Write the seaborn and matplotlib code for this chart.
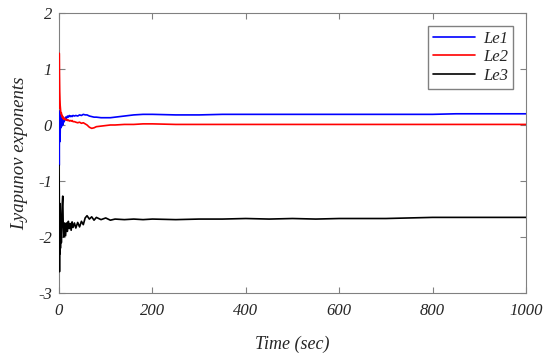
import matplotlib
matplotlib.use("Agg")
import matplotlib.pyplot as plt
import pandas as pd
import seaborn as sns

# time grid (sec)
time = [0, 0.5, 1, 1.5, 2, 2.5, 3, 4, 5, 6, 7, 8, 9, 10,
        12, 14, 16, 18, 20, 22, 24, 26, 28, 30, 33, 36,
        40, 44, 48, 52, 56, 60, 65, 70, 75, 80,
        90, 100, 110, 120, 140, 160, 180, 200,
        250, 300, 350, 400, 450, 500, 550, 600, 650, 700,
        750, 800, 850, 900, 950, 1000]

le1 = [0.1, -0.72, 0.25, -0.3, 0.2, -0.15, 0.15, -0.05, 0.12, -0.02, 0.1, 0.0, 0.12, 0.05,
       0.08, 0.14, 0.12, 0.16, 0.14, 0.17, 0.15, 0.16, 0.15, 0.17, 0.16, 0.17,
       0.16, 0.18, 0.17, 0.19, 0.18, 0.18, 0.16, 0.15, 0.14, 0.14,
       0.13, 0.13, 0.13, 0.14, 0.16, 0.18, 0.19, 0.19,
       0.18, 0.18, 0.19, 0.19, 0.19, 0.19, 0.19, 0.19, 0.19, 0.19,
       0.19, 0.19, 0.2, 0.2, 0.2, 0.2]

le2 = [0.3, 1.28, 0.9, 0.6, 0.45, 0.35, 0.3, 0.2, 0.22, 0.15, 0.17, 0.12, 0.14, 0.1,
       0.12, 0.09, 0.1, 0.08, 0.09, 0.07, 0.08, 0.07, 0.08, 0.06, 0.06, 0.05,
       0.04, 0.05, 0.03, 0.04, 0.02, 0.0, -0.04, -0.06, -0.05, -0.03,
       -0.02, -0.01, 0.0, 0.0, 0.01, 0.01, 0.02, 0.02,
       0.01, 0.01, 0.01, 0.01, 0.01, 0.01, 0.01, 0.01, 0.01, 0.01,
       0.01, 0.01, 0.01, 0.01, 0.01, 0.01]

le3 = [-0.72, -1.2, -2.62, -1.4, -2.3, -1.6, -2.2, -1.7, -2.1, -1.6, -1.4, -1.27, -1.8, -2.0,
       -1.75, -1.98, -1.75, -1.9, -1.72, -1.85, -1.76, -1.88, -1.73, -1.83, -1.75, -1.84,
       -1.74, -1.82, -1.72, -1.78, -1.66, -1.62, -1.68, -1.64, -1.7, -1.65,
       -1.69, -1.66, -1.7, -1.68, -1.69, -1.68, -1.69, -1.68,
       -1.69, -1.68, -1.68, -1.67, -1.68, -1.67, -1.68, -1.67, -1.67, -1.67,
       -1.66, -1.65, -1.65, -1.65, -1.65, -1.65]

series = ["Le1", "Le2", "Le3"]
colors = ["#0000ff", "#ff0000", "#000000"]

df = pd.DataFrame({"time": time * 3,
                   "value": le1 + le2 + le3,
                   "name": [s for s in series for _ in time]})

sns.set_style("ticks")
plt.rcParams["font.family"] = ["Liberation Serif", "DejaVu Serif"]
plt.rcParams["font.style"] = "italic"
plt.rcParams["axes.unicode_minus"] = False

fig = plt.figure(figsize=(5.5, 3.56), dpi=100)
ax = fig.add_axes([0.1073, 0.177, 0.849, 0.7865])

sns.lineplot(data=df, x="time", y="value", hue="name", palette=colors,
             linewidth=1.2, ax=ax, estimator=None, sort=False, zorder=3)

ax.set_xlim(0, 1000)
ax.set_ylim(-3, 2)
ax.set_xticks([0, 200, 400, 600, 800, 1000])
ax.set_yticks([-3, -2, -1, 0, 1, 2])
ax.set_xlabel("Time (sec)", fontsize=13, fontstyle="italic", labelpad=12)
ax.set_ylabel("Lyapunov exponents", fontsize=13.5, fontstyle="italic", labelpad=7)
ax.tick_params(direction="in", top=True, right=True, labelsize=12,
               length=4, color="#808080")
ax.tick_params(axis="x", pad=7)
ax.tick_params(axis="y", pad=5)
for sp in ax.spines.values():
    sp.set_visible(True)
    sp.set_color("#808080")
    sp.set_linewidth(0.8)

leg = ax.legend(loc="upper right", bbox_to_anchor=(0.972, 0.955), fontsize=12,
                fancybox=False, framealpha=1, edgecolor="#808080",
                handlelength=2.5, handletextpad=0.5, borderpad=0.3,
                labelspacing=0.15, borderaxespad=0)
leg.set_title(None)
for t in leg.get_texts():
    t.set_fontstyle("italic")

fig.canvas.draw()
for lab in ax.get_xticklabels() + ax.get_yticklabels():
    lab.set_fontstyle("italic")

fig.savefig("out.png", dpi=100)
